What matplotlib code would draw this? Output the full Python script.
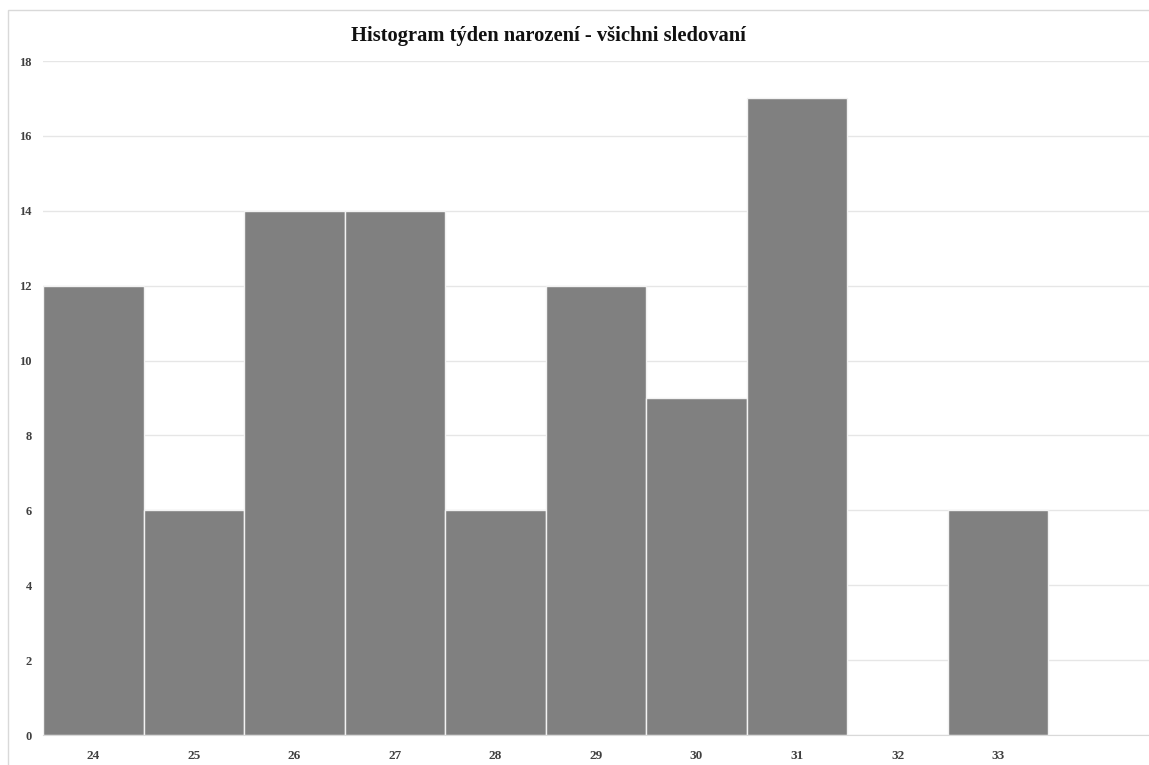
import matplotlib.pyplot as plt
from matplotlib.patches import Rectangle

weeks = [24, 25, 26, 27, 28, 29, 30, 31, 32, 33]
counts = [12, 6, 14, 14, 6, 12, 9, 17, 0, 6]
yticks = list(range(0, 19, 2))

plt.rcParams['font.family'] = ['Liberation Serif', 'DejaVu Serif']

fig = plt.figure(figsize=(11.49, 7.65), dpi=100)
ax = fig.add_axes([43 / 1149, 1 - 735 / 765, 1 - 43 / 1149, (735 - 61) / 765])

# outer chart border (cropped on the right/bottom)
fig.patches.append(Rectangle((8 / 1149, -0.1), 1.2, 1 - 10 / 765 + 0.1,
                             transform=fig.transFigure, fill=False,
                             edgecolor='#d9d9d9', linewidth=1))

ax.bar(weeks, counts, width=1.0, color='#808080', edgecolor='#f2f2f2',
       linewidth=1, zorder=2)

ax.set_xlim(23.5, 34.5)
ax.set_ylim(0, 18)
ax.set_yticks(yticks)
ax.set_xticks(weeks)
ax.grid(axis='y', color='#e6e6e6', linewidth=1, zorder=0)
ax.set_axisbelow(True)

for side in ['top', 'right', 'left']:
    ax.spines[side].set_visible(False)
ax.spines['bottom'].set_color('#d9d9d9')

ax.tick_params(axis='both', length=0, colors='#404040')
ax.tick_params(axis='y', pad=8)
ax.tick_params(axis='x', pad=11)
for lbl in ax.get_yticklabels():
    lbl.set_fontsize(9)
    lbl.set_fontweight('bold')
for lbl in ax.get_xticklabels():
    lbl.set_fontsize(9.5)
    lbl.set_fontweight('bold')

fig.text(548 / 1149, 1 - 36 / 765, 'Histogram týden narození - všichni sledovaní',
         ha='center', va='center', fontsize=14.8, fontweight='bold', color='#111111')

fig.savefig('out.png', dpi=100)
